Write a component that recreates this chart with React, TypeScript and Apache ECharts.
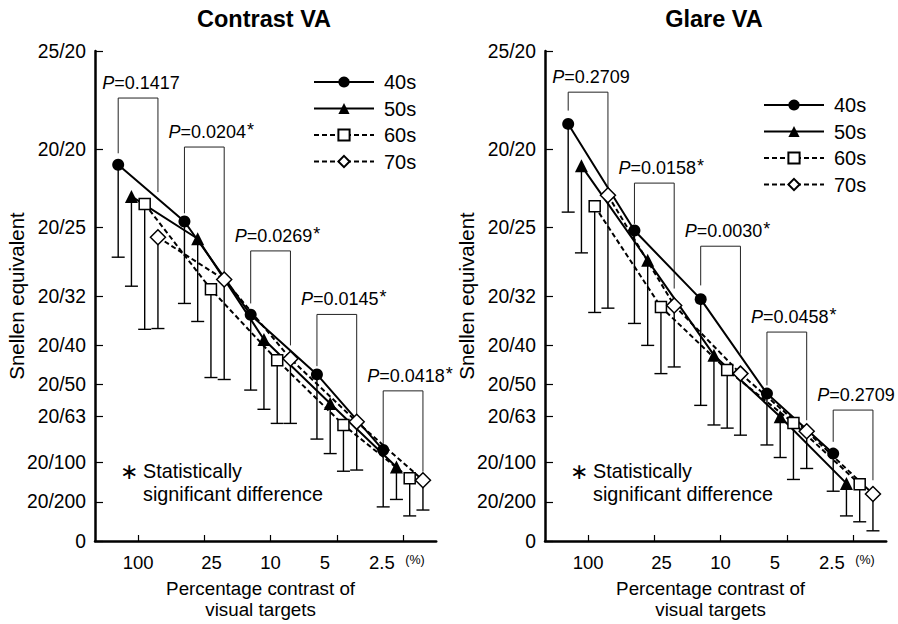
import React, { useEffect, useRef } from "react";
import * as echarts from "echarts";

// ---------- data ----------
const categories = ["100", "25", "10", "5", "2.5"];
const categoryTicks = [0, 1, 2, 3, 4];
// where each category label is printed along the axis (axis units, as in the source figure)
const categoryLabelPos = [0, 1.11, 2, 2.82, 3.68];
const groups = ["40s", "50s", "60s", "70s"];

// decimal visual acuity (linear axis), Snellen labels
const yTickValues = [0, 0.1, 0.2, 0.317, 0.4, 0.5, 0.625, 0.8, 1.0, 1.25];
const yTickLabels = ["0", "20/200", "20/100", "20/63", "20/50", "20/40", "20/32", "20/25", "20/20", "25/20"];

// Contrast VA: means and lower error-bar ends
const contrast40 = [0.960, 0.815, 0.577, 0.425, 0.232];
const contrast40Low = [0.724, 0.606, 0.385, 0.260, 0.087];
const contrast50 = [0.879, 0.771, 0.514, 0.351, 0.189];
const contrast50Low = [0.650, 0.560, 0.336, 0.223, 0.106];
const contrast60 = [0.860, 0.642, 0.461, 0.296, 0.160];
const contrast60Low = [0.540, 0.417, 0.300, 0.178, 0.064];
const contrast70 = [0.775, 0.667, 0.465, 0.304, 0.155];
const contrast70Low = [0.542, 0.412, 0.300, 0.181, 0.079];

// Glare VA
const glare40 = [1.064, 0.792, 0.617, 0.376, 0.223];
const glare40Low = [0.839, 0.555, 0.346, 0.245, 0.127];
const glare50 = [0.957, 0.716, 0.474, 0.317, 0.147];
const glare50Low = [0.735, 0.499, 0.296, 0.213, 0.064];
const glare60 = [0.854, 0.597, 0.436, 0.301, 0.145];
const glare60Low = [0.583, 0.427, 0.288, 0.157, 0.049];
const glare70 = [0.882, 0.601, 0.427, 0.280, 0.120];
const glare70Low = [0.594, 0.444, 0.270, 0.185, 0.026];

// P-value brackets: top, left-leg bottom, right-leg bottom (acuity units)
const contrastP = ["0.1417", "0.0204", "0.0269", "0.0145", "0.0418"];
const contrastSig = [false, true, true, true, true];
const contrastBracketTop = [1.130, 1.005, 0.740, 0.578, 0.383];
const contrastBracketLeft = [0.989, 0.836, 0.606, 0.446, 0.240];
const contrastBracketRight = [0.890, 0.683, 0.499, 0.321, 0.177];

const glareP = ["0.2709", "0.0158", "0.0030", "0.0458", "0.2709"];
const glareSig = [false, true, true, true, false];
const glareBracketTop = [1.145, 0.913, 0.752, 0.533, 0.334];
const glareBracketLeft = [1.098, 0.809, 0.652, 0.397, 0.253];
const glareBracketRight = [0.899, 0.644, 0.478, 0.308, 0.155];

// ---------- styling ----------
const FONT = "'Liberation Sans', Arial, Helvetica, sans-serif";
const offsets = [-0.3, -0.1, 0.1, 0.3];
const symbols = ["circle", "triangle", "rect", "diamond"];
const symbolSizes = [12, 13, 11, 15];
const filled = [true, true, false, false];
const dashed = [false, false, true, true];

const panels = [
  {
    title: "Contrast VA",
    means: [contrast40, contrast50, contrast60, contrast70],
    lows: [contrast40Low, contrast50Low, contrast60Low, contrast70Low],
    p: contrastP, sig: contrastSig,
    top: contrastBracketTop, left: contrastBracketLeft, right: contrastBracketRight,
    gridLeft: 95, legendTop: 72,
  },
  {
    title: "Glare VA",
    means: [glare40, glare50, glare60, glare70],
    lows: [glare40Low, glare50Low, glare60Low, glare70Low],
    p: glareP, sig: glareSig,
    top: glareBracketTop, left: glareBracketLeft, right: glareBracketRight,
    gridLeft: 545, legendTop: 95,
  },
];

const X_MIN = -0.65;
const X_MAX = 4.5;
const GRID_W = 341.2;
const GRID_TOP = 51;
const GRID_H = 490;

function yLabel(v: number) {
  for (let i = 0; i < yTickValues.length; i++) {
    if (Math.abs(yTickValues[i] - v) < 1e-6) return yTickLabels[i];
  }
  return "";
}
function xLabel(v: number) {
  for (let i = 0; i < categoryLabelPos.length; i++) {
    if (Math.abs(categoryLabelPos[i] - v) < 1e-6) return categories[i];
  }
  return "";
}

function buildOption() {
  const grids: any[] = [];
  const xAxes: any[] = [];
  const yAxes: any[] = [];
  const series: any[] = [];
  const legends: any[] = [];
  const graphics: any[] = [];

  panels.forEach((pn, gi) => {
    grids.push({
      left: pn.gridLeft, top: GRID_TOP, width: GRID_W, height: GRID_H,
      containLabel: false, outerBoundsMode: "none",
    });
    xAxes.push({
      type: "value", gridIndex: gi, min: X_MIN, max: X_MAX,
      axisLine: { show: true, onZero: false, lineStyle: { color: "#000", width: 2.5 } },
      axisTick: { show: true, inside: true, length: 6, customValues: categoryTicks, lineStyle: { color: "#000", width: 1.2 } },
      axisLabel: {
        customValues: categoryLabelPos,
        formatter: (v: number) => xLabel(v),
        fontSize: 18.5, color: "#000", margin: 12, fontFamily: FONT,
      },
      splitLine: { show: false },
    });
    yAxes.push({
      type: "value", gridIndex: gi, min: 0, max: 1.25,
      axisLine: { show: true, onZero: false, lineStyle: { color: "#000", width: 2.5 } },
      axisTick: { show: true, inside: true, length: 8, customValues: yTickValues, lineStyle: { color: "#000", width: 1.2 } },
      axisLabel: {
        customValues: yTickValues, formatter: (v: number) => yLabel(v),
        fontSize: 19.3, color: "#000", margin: 9, fontFamily: FONT,
      },
      splitLine: { show: false },
    });

    // error bars (one custom series per panel)
    const errData: number[][] = [];
    pn.means.forEach((arr, g) => {
      arr.forEach((v, c) => errData.push([c + offsets[g], v, pn.lows[g][c]]));
    });
    series.push({
      type: "custom", xAxisIndex: gi, yAxisIndex: gi, z: 1, silent: true,
      data: errData,
      renderItem: (params: any, api: any) => {
        const x = api.value(0), v = api.value(1), lo = api.value(2);
        const p1 = api.coord([x, v]);
        const p2 = api.coord([x, lo]);
        return {
          type: "group",
          children: [
            { type: "line", shape: { x1: p1[0], y1: p1[1], x2: p2[0], y2: p2[1] }, style: { stroke: "#000", lineWidth: 1.4 } },
            { type: "line", shape: { x1: p2[0] - 6.5, y1: p2[1], x2: p2[0] + 6.5, y2: p2[1] }, style: { stroke: "#000", lineWidth: 1.4 } },
          ],
        };
      },
    });

    // brackets + p-values
    const brData = pn.top.map((t, c) => [c, t, pn.left[c], pn.right[c]]);
    series.push({
      type: "custom", xAxisIndex: gi, yAxisIndex: gi, z: 2, silent: true,
      data: brData,
      renderItem: (params: any, api: any) => {
        const c = api.value(0), t = api.value(1), lb = api.value(2), rb = api.value(3);
        const a = api.coord([c + offsets[0], lb]);
        const b = api.coord([c + offsets[0], t]);
        const d = api.coord([c + offsets[3], t]);
        const e = api.coord([c + offsets[3], rb]);
        const idx = params.dataIndex;
        const txt = "{i|P}{n|=" + pn.p[idx] + "}" + (pn.sig[idx] ? "{s|*}" : "");
        return {
          type: "group",
          children: [
            {
              type: "polyline",
              shape: { points: [a, b, d, e] },
              style: { stroke: "#222", lineWidth: 1, fill: "none" },
            },
            {
              type: "text",
              x: b[0] - 16, y: b[1] - 15,
              style: {
                text: txt,
                verticalAlign: "middle",
                align: "left",
                rich: {
                  i: { fontStyle: "italic", fontSize: 18, fontFamily: FONT, fill: "#000" },
                  n: { fontSize: 18, fontFamily: FONT, fill: "#000" },
                  s: { fontSize: 18, fontFamily: FONT, fill: "#000", verticalAlign: "top", padding: [0, 0, 4, 1] },
                },
              },
            },
          ],
        };
      },
    });

    // line series
    groups.forEach((name, g) => {
      series.push({
        type: "line", name, xAxisIndex: gi, yAxisIndex: gi, z: 3,
        data: pn.means[g].map((v, c) => [c + offsets[g], v]),
        symbol: symbols[g], symbolSize: symbolSizes[g], showSymbol: true,
        lineStyle: { color: "#000", width: 2, type: dashed[g] ? [5, 3] : "solid" },
        itemStyle: filled[g]
          ? { color: "#000", borderColor: "#000", borderWidth: 0 }
          : { color: "#fff", borderColor: "#000", borderWidth: 1.5 },
        emphasis: { disabled: true },
      });
    });

    legends.push({
      data: groups, orient: "vertical",
      left: pn.gridLeft + 218, top: pn.legendTop, padding: 0,
      itemWidth: 60, itemHeight: 14, itemGap: 6.5,
      textStyle: { fontSize: 20, color: "#000", fontFamily: FONT, lineHeight: 18, padding: [0, 0, 0, 5] },
      selectedMode: false,
    });

    const cx = pn.gridLeft + GRID_W / 2 - 5;
    graphics.push(
      {
        type: "text", x: pn.gridLeft + 169, y: 19,
        style: { text: pn.title, align: "center", verticalAlign: "middle", font: `bold 23.5px ${FONT}`, fill: "#000" },
      },
      {
        type: "text", x: pn.gridLeft - 79, y: 296, rotation: Math.PI / 2,
        style: { text: "Snellen equivalent", align: "center", verticalAlign: "middle", font: `20.5px ${FONT}`, fill: "#000" },
      },
      {
        type: "text", x: cx, y: 588,
        style: { text: "Percentage contrast of", align: "center", verticalAlign: "middle", font: `18.8px ${FONT}`, fill: "#000" },
      },
      {
        type: "text", x: cx, y: 609,
        style: { text: "visual targets", align: "center", verticalAlign: "middle", font: `18.8px ${FONT}`, fill: "#000" },
      },
      {
        type: "text", x: pn.gridLeft + 320, y: 560,
        style: { text: "(%)", align: "center", verticalAlign: "middle", font: `12.5px ${FONT}`, fill: "#000" },
      },
      {
        type: "text", x: pn.gridLeft + 34, y: 471,
        style: { text: "\u2217", align: "center", verticalAlign: "middle", font: `22px ${FONT}`, fill: "#000" },
      },
      {
        type: "text", x: pn.gridLeft + 48, y: 471,
        style: { text: "Statistically", align: "left", verticalAlign: "middle", font: `19.8px ${FONT}`, fill: "#000" },
      },
      {
        type: "text", x: pn.gridLeft + 48, y: 494,
        style: { text: "significant difference", align: "left", verticalAlign: "middle", font: `19.8px ${FONT}`, fill: "#000" },
      }
    );
  });

  return {
    animation: false,
    backgroundColor: "#fff",
    textStyle: { fontFamily: FONT },
    grid: grids,
    xAxis: xAxes,
    yAxis: yAxes,
    legend: legends,
    series,
    graphic: graphics,
  };
}

export default function App() {
  const ref = useRef<HTMLDivElement>(null);
  useEffect(() => {
    if (!ref.current) return;
    const chart = echarts.init(ref.current, undefined, { renderer: "svg" });
    chart.setOption(buildOption() as any);
    return () => chart.dispose();
  }, []);
  return (
    <div
      ref={ref}
      style={{ position: "absolute", left: 0, top: 0, width: 898, height: 624, background: "#fff" }}
    />
  );
}
